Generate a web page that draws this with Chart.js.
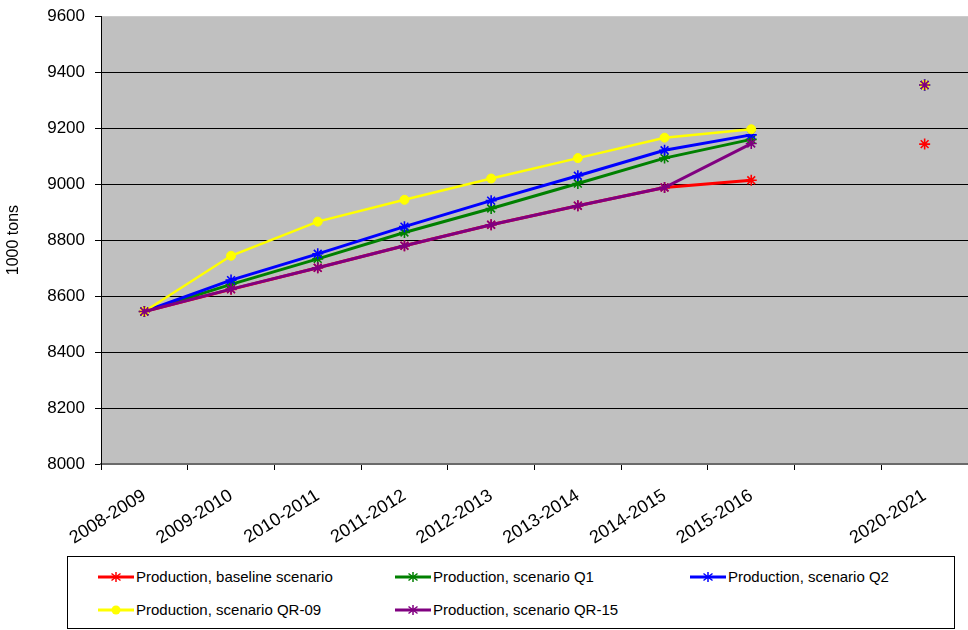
<!DOCTYPE html>
<html>
<head>
<meta charset="utf-8">
<script src="https://cdn.jsdelivr.net/npm/chart.js@4"></script>
<style>
  html, body { margin: 0; padding: 0; background: #fff; }
  body { width: 968px; height: 630px; position: relative; overflow: hidden; font-family: "Liberation Sans", Arial, sans-serif; }
  #wrap { position: absolute; left: 0; top: -4px; width: 968px; height: 554px; }
  #legend { position: absolute; left: 67px; top: 556px; width: 886px; height: 71px; border: 1px solid #000; box-sizing: content-box; }
  .item { position: absolute; display: flex; align-items: center; font-size: 15px; color: #000; white-space: nowrap; }
  .item svg { margin-right: 2px; }
</style>
</head>
<body>
<div id="wrap"><canvas id="c" width="968" height="554"></canvas></div>
<div id="legend"></div>
<script>
const categories = ['2008-2009','2009-2010','2010-2011','2011-2012','2012-2013','2013-2014','2014-2015','2015-2016','','2020-2021'];
const baseline = [8545, 8624, 8701, 8780, 8855, 8923, 8988, 9014, null, 9143];
const scenarioQ1 = [8545, 8642, 8733, 8827, 8913, 9002, 9093, 9160, null, 9354];
const scenarioQ2 = [8545, 8657, 8751, 8848, 8941, 9030, 9121, 9176, null, 9354];
const scenarioQR09 = [8545, 8744, 8866, 8944, 9020, 9093, 9166, 9196, null, 9354];
const scenarioQR15 = [8545, 8625, 8701, 8780, 8855, 8923, 8988, 9145, null, 9354];
const yTicks = [8000, 8200, 8400, 8600, 8800, 9000, 9200, 9400, 9600];

const seriesNames = ['Production, baseline scenario','Production, scenario Q1','Production, scenario Q2','Production, scenario QR-09','Production, scenario QR-15'];
const seriesColors = ['#FF0000','#008000','#0000FF','#FFFF00','#800080'];
const seriesMarkers = ['star','star','star','circle','star'];
const seriesOrder = [4, 3, 2, 1, 0];
const seriesData = [baseline, scenarioQ1, scenarioQ2, scenarioQR09, scenarioQR15];

const bgPlugin = {
  id: 'plotBg',
  beforeDraw(chart) {
    const a = chart.chartArea, ctx = chart.ctx;
    ctx.save();
    ctx.fillStyle = '#C0C0C0';
    ctx.fillRect(a.left, a.top, a.right - a.left, a.bottom - a.top);
    ctx.restore();
  }
};

const datasets = seriesData.map((d, i) => ({
  label: seriesNames[i],
  data: d,
  borderColor: seriesColors[i],
  backgroundColor: seriesColors[i],
  borderWidth: seriesMarkers[i] === 'circle' ? 2.5 : 3,
  pointStyle: seriesMarkers[i],
  pointRadius: seriesMarkers[i] === 'circle' ? 4.5 : 5.5,
  pointBorderWidth: seriesMarkers[i] === 'circle' ? 1 : 1.6,
  pointBorderColor: seriesColors[i],
  pointBackgroundColor: seriesColors[i],
  order: seriesOrder[i],
  spanGaps: false,
  tension: 0
}));

new Chart(document.getElementById('c'), {
  type: 'line',
  data: { labels: categories, datasets },
  plugins: [bgPlugin],
  options: {
    responsive: false,
    animation: false,
    clip: false,
    layout: { autoPadding: false, padding: { top: 11, right: 0, left: 0, bottom: 0 } },
    plugins: { legend: { display: false }, tooltip: { enabled: false } },
    scales: {
      x: {
        offset: true,
        grid: { offset: true, drawOnChartArea: false, drawTicks: true, tickLength: 6, color: '#000' },
        border: { color: '#6a6a6a', width: 2 },
        ticks: { autoSkip: false, maxRotation: 32, minRotation: 32, color: '#000', padding: 15,
                 font: { family: 'Liberation Sans', size: 18 } },
        afterFit(s) { s.height = 86; }
      },
      y: {
        min: 8000, max: 9600,
        afterBuildTicks(s) { s.ticks = yTicks.map(v => ({ value: v })); },
        grid: {
          color: (c) => (c.tick && (c.tick.value === 9600 || c.tick.value === 8000)) ? 'rgba(0,0,0,0)' : '#000',
          tickColor: '#000', tickLength: 6, lineWidth: 1
        },
        border: { color: '#000', width: 1 },
        ticks: { color: '#000', padding: 10, font: { family: 'Liberation Sans', size: 17 },
                 callback: (v) => String(v) },
        title: { display: true, text: '1000 tons', color: '#000', padding: { top: 4, bottom: 0 },
                 font: { family: 'Liberation Sans', size: 16 } },
        afterFit(s) { s.width = 101; }
      }
    }
  }
});

// HTML legend built from the series arrays
const legend = document.getElementById('legend');
const pos = [[30, 20], [327, 20], [622, 20], [30, 53], [327, 53]];
seriesNames.forEach((name, i) => {
  const el = document.createElement('div');
  el.className = 'item';
  el.style.left = pos[i][0] + 'px';
  el.style.top = (pos[i][1] - 9) + 'px';
  const c = seriesColors[i];
  let marker;
  if (seriesMarkers[i] === 'circle') {
    marker = `<circle cx="18" cy="8" r="4.5" fill="${c}"/>`;
  } else {
    marker = `<g stroke="${c}" stroke-width="1.5"><line x1="18" y1="3" x2="18" y2="13"/><line x1="13.5" y1="4.5" x2="22.5" y2="11.5"/><line x1="13.5" y1="11.5" x2="22.5" y2="4.5"/></g>`;
  }
  el.innerHTML = `<svg width="36" height="16" viewBox="0 0 36 16"><line x1="0" y1="8" x2="36" y2="8" stroke="${c}" stroke-width="3"/>${marker}</svg><span>${name}</span>`;
  legend.appendChild(el);
});
</script>
</body>
</html>
